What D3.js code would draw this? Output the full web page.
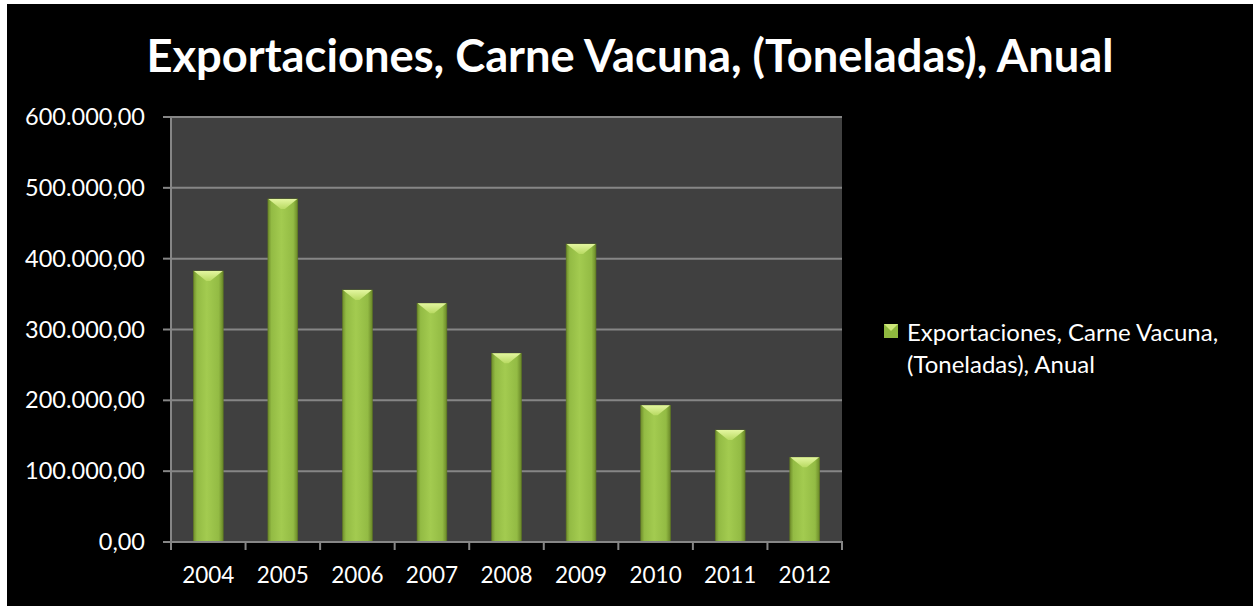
<!DOCTYPE html>
<html lang="es">
<head>
<meta charset="UTF-8">
<title>Exportaciones, Carne Vacuna</title>
<script src="https://d3js.org/d3.v7.min.js"></script>
<style>
  html, body { margin: 0; padding: 0; background: #ffffff; }
  svg { display: block; }
  text { font-family: Lato, "Open Sans", sans-serif; fill: #ffffff; }
</style>
</head>
<body>
<svg width="1253" height="606"></svg>
<script>
// data
const years = ["2004", "2005", "2006", "2007", "2008", "2009", "2010", "2011", "2012"];
const toneladas = [382600, 484300, 355800, 337000, 266400, 420700, 193000, 158000, 119600];
const yTicks = [0, 100000, 200000, 300000, 400000, 500000, 600000];
const titulo = "Exportaciones, Carne Vacuna, (Toneladas), Anual";
const serieNombre = ["Exportaciones, Carne Vacuna,", "(Toneladas), Anual"];

const svg = d3.select("svg");

// black chart area (white strip left/top like the screenshot)
svg.append("rect").attr("x", 7).attr("y", 4).attr("width", 1246).attr("height", 602).attr("fill", "#000");

const plot = {left: 171, right: 842, top: 117, bottom: 542};

const x = d3.scaleBand().domain(years).range([plot.left, plot.right]).paddingInner(0.6).paddingOuter(0.3);
const xEdge = d3.scaleBand().domain(years).range([plot.left, plot.right]);
const y = d3.scaleLinear().domain([0, 600000]).range([plot.bottom, plot.top]);

const fmt = d3.formatLocale({decimal: ",", thousands: ".", grouping: [3], currency: ["", ""]}).format(",.2f");

// plot background
svg.append("rect")
    .attr("x", plot.left).attr("y", plot.top)
    .attr("width", plot.right - plot.left).attr("height", plot.bottom - plot.top)
    .attr("fill", "#404040");

// gridlines
svg.append("g").selectAll("line")
    .data(yTicks.filter(d => d > 0))
    .join("line")
    .attr("x1", plot.left).attr("x2", plot.right)
    .attr("y1", d => y(d)).attr("y2", d => y(d))
    .attr("stroke", "#868686").attr("stroke-width", 2);

// gradients for the bars
const defs = svg.append("defs");
const g1 = defs.append("linearGradient").attr("id", "barGrad").attr("x1", "0%").attr("x2", "100%");
g1.append("stop").attr("offset", "0%").attr("stop-color", "#6f8d2b");
g1.append("stop").attr("offset", "12%").attr("stop-color", "#93bb44");
g1.append("stop").attr("offset", "45%").attr("stop-color", "#a3cb50");
g1.append("stop").attr("offset", "85%").attr("stop-color", "#93bb44");
g1.append("stop").attr("offset", "100%").attr("stop-color", "#6a8828");
const g2 = defs.append("linearGradient").attr("id", "topGrad").attr("x1", "0%").attr("y1", "0%").attr("x2", "0%").attr("y2", "100%");
g2.append("stop").attr("offset", "0%").attr("stop-color", "#e4f6a0");
g2.append("stop").attr("offset", "100%").attr("stop-color", "#b8da62");

const bevel = 10;
const bars = svg.append("g").selectAll("g")
    .data(years.map((d, i) => ({year: d, v: toneladas[i]})))
    .join("g");

bars.append("rect")
    .attr("x", d => x(d.year)).attr("y", d => y(d.v))
    .attr("width", x.bandwidth()).attr("height", d => plot.bottom - y(d.v))
    .attr("fill", "url(#barGrad)")
    .attr("stroke", "#5f7a22").attr("stroke-width", 0.6);

// light V-shaped top face
bars.append("polygon")
    .attr("points", d => {
        const x0 = x(d.year), x1 = x0 + x.bandwidth(), t = y(d.v), xc = (x0 + x1) / 2;
        return [[x0 + 0.5, t], [x1 - 0.5, t], [xc + 2, t + bevel], [xc - 2, t + bevel]].join(" ");
    })
    .attr("fill", "url(#topGrad)");

// axes
const axisCol = "#868686";
svg.append("line").attr("x1", plot.left).attr("x2", plot.left)
    .attr("y1", plot.top).attr("y2", plot.bottom).attr("stroke", axisCol).attr("stroke-width", 2);
svg.append("line").attr("x1", plot.left - 8).attr("x2", plot.right + 1)
    .attr("y1", plot.bottom).attr("y2", plot.bottom).attr("stroke", axisCol).attr("stroke-width", 2);

// y ticks + labels
svg.append("g").selectAll("line")
    .data(yTicks).join("line")
    .attr("x1", plot.left - 8).attr("x2", plot.left)
    .attr("y1", d => y(d)).attr("y2", d => y(d))
    .attr("stroke", axisCol).attr("stroke-width", 2);
svg.append("g").selectAll("text")
    .data(yTicks).join("text")
    .attr("x", 145).attr("y", d => y(d) + 8)
    .attr("text-anchor", "end")
    .style("font-size", "23.5px")
    .text(d => fmt(d));

// x ticks between categories
const edges = years.map(d => xEdge(d)).concat([plot.right]);
svg.append("g").selectAll("line")
    .data(edges).join("line")
    .attr("x1", d => d).attr("x2", d => d)
    .attr("y1", plot.bottom).attr("y2", plot.bottom + 8)
    .attr("stroke", axisCol).attr("stroke-width", 2);
svg.append("g").selectAll("text")
    .data(years).join("text")
    .attr("x", d => x(d) + x.bandwidth() / 2).attr("y", 583)
    .attr("text-anchor", "middle")
    .style("font-size", "22.5px")
    .text(d => d);

// title
svg.append("text")
    .attr("x", 630).attr("y", 72)
    .attr("text-anchor", "middle")
    .style("font-size", "45.3px").style("font-weight", "bold")
    .text(titulo);

// legend
svg.append("rect").attr("x", 884).attr("y", 324).attr("width", 14).attr("height", 14)
    .attr("fill", "#8fb83f");
svg.append("polygon").attr("points", "884,324 898,324 891,331").attr("fill", "#cde779");
svg.append("g").selectAll("text")
    .data(serieNombre).join("text")
    .attr("x", 907).attr("y", (d, i) => 341 + i * 32)
    .style("font-size", "24px")
    .text(d => d);
</script>
</body>
</html>
